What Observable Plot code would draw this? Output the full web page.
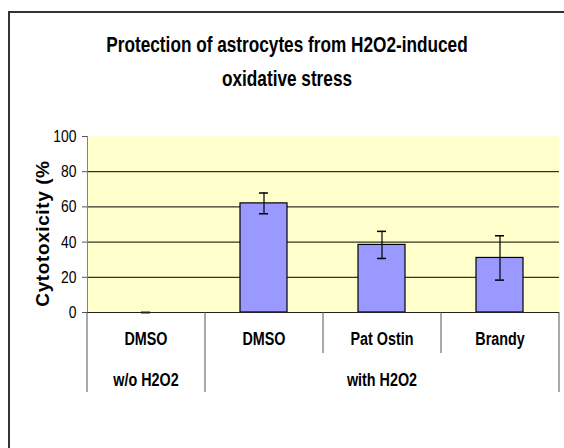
<!DOCTYPE html>
<html>
<head>
<meta charset="utf-8">
<script src="https://cdn.jsdelivr.net/npm/d3@7"></script>
<script src="https://cdn.jsdelivr.net/npm/@observablehq/plot@0.6"></script>
<style>
  body { margin: 0; background: #fff; }
  #wrap { position: relative; width: 564px; height: 448px; overflow: hidden; background: #fff; }
  #border { position: absolute; left: 8px; top: 11px; width: 800px; height: 800px;
            border-top: 2px solid #333; border-left: 2px solid #333; box-sizing: border-box; }
  #title { position: absolute; left: 10px; width: 554px; top: 28px; text-align: center;
           font-weight: bold; color: #000; line-height: 34px; white-space: nowrap; }
  #title div { transform: scaleY(1.24); transform-origin: 50% 50%; }
  #plot { position: absolute; left: 0; top: 100px; }
</style>
</head>
<body>
<div id="wrap">
  <div id="border"></div>
  <div id="title"></div>
  <div id="plot"></div>
</div>
<script>
// ---- data ----
const titleLines = ["Protection of astrocytes from H2O2-induced", "oxidative stress"];
const yLabel = "Cytotoxicity (%";
const treatments = ["DMSO", "DMSO", "Pat Ostin", "Brandy"];
const groups = ["w/o H2O2", "with H2O2", "with H2O2", "with H2O2"];
const cytotoxicity = [0, 62.0, 38.4, 31.0];
const errorSD = [0, 5.9, 7.7, 12.6];
const yTicks = [0, 20, 40, 60, 80, 100];
const gridTicks = [20, 40, 60, 80];

// ---- font detection ----
function hasFont(name) {
  const c = document.createElement("canvas").getContext("2d");
  const t = "DMSO Brandy 0123456789 Protection";
  c.font = "40px monospace";
  const a = c.measureText(t).width;
  c.font = `40px "${name}", monospace`;
  const b = c.measureText(t).width;
  return Math.abs(a - b) > 0.5;
}
const narrow = hasFont("Liberation Sans Narrow");
const FONT = narrow ? '"Liberation Sans Narrow", "Arial Narrow", sans-serif' : '"Liberation Sans", Arial, sans-serif';
const k = narrow ? 1 : 0.82;
const S = narrow ? 1 : 1.22; // vertical stretch of horizontal text

// ---- title ----
const titleEl = document.getElementById("title");
titleEl.style.fontFamily = FONT;
titleEl.style.fontSize = (21 * k) + "px";
titleLines.forEach(t => { const d = document.createElement("div"); d.textContent = t; titleEl.appendChild(d); });
if (narrow) titleEl.querySelectorAll("div").forEach(d => d.style.transform = "none");

// ---- table ----
const rows = treatments.map((t, i) => ({
  id: String(i), treatment: t, group: groups[i],
  value: cytotoxicity[i], lo: cytotoxicity[i] - errorSD[i], hi: cytotoxicity[i] + errorSD[i]
}));
const ids = rows.map(d => d.id);
const spans = [];
rows.forEach((d, i) => {
  const last = spans[spans.length - 1];
  if (last && last.group === d.group) last.end = i; else spans.push({group: d.group, start: i, end: i});
});
const groupLabels = spans.map(s => ({group: s.group, id: ids[Math.floor((s.start + s.end) / 2)]}));
const isFirst = (d, i) => i === 0 || groups[i] !== groups[i - 1];
const firstInGroup = rows.filter(isFirst);
const notFirst = rows.filter((d, i) => !isFirst(d, i));
const lastRow = [rows[rows.length - 1]];

const W = 564, H = 348, ML = 87, MR = 5, MT = 36, MB = 136;
const step = (W - ML - MR) / ids.length;

const chart = Plot.plot({
  width: W, height: H,
  marginLeft: ML, marginRight: MR, marginTop: MT, marginBottom: MB,
  style: {fontFamily: FONT, fontSize: (17 * k) + "px", color: "#000", background: "transparent", overflow: "visible"},
  x: {type: "band", domain: ids, paddingInner: 0.6, paddingOuter: 0.3, axis: null},
  y: {domain: [0, 100]},
  marks: [
    Plot.frame({fill: "#FFFFCC", stroke: null}),
    Plot.gridY(gridTicks, {stroke: "#000", strokeOpacity: 1}),
    Plot.barY(rows, {x: "id", y: "value", fill: "#9999FF", stroke: "#000", strokeWidth: 1.2}),
    Plot.ruleX(rows, {x: "id", y1: "lo", y2: "hi", stroke: "#000", strokeWidth: 1.2}),
    Plot.tickY(rows, {x: "id", y: "hi", stroke: "#000", strokeWidth: 1.5, insetLeft: 19, insetRight: 19}),
    Plot.tickY(rows, {x: "id", y: "lo", stroke: "#000", strokeWidth: 1.5, insetLeft: 19, insetRight: 19}),
    Plot.frame({anchor: "left", stroke: "#808080"}),
    Plot.ruleY([0], {stroke: "#222"}),
    Plot.axisY(yTicks, {tickSize: 5, tickPadding: 6, stroke: "#555", fill: "#000", label: null}),
    // category separators
    Plot.ruleX(firstInGroup, {x: "id", y1: 0, y2: 0, dx: -step / 2, insetBottom: -80, stroke: "#555"}),
    Plot.ruleX(notFirst, {x: "id", y1: 0, y2: 0, dx: -step / 2, insetBottom: -41, stroke: "#555"}),
    Plot.ruleX(lastRow, {x: "id", y1: 0, y2: 0, dx: step / 2, insetBottom: -80, stroke: "#555"}),
    // category labels
    Plot.text(rows, {x: "id", text: "treatment", frameAnchor: "bottom", dy: 27, lineAnchor: "middle",
      fontWeight: "bold", fontSize: 17.5 * k, fill: "#000"}),
    Plot.text(groupLabels, {x: "id", text: "group", frameAnchor: "bottom", dy: 68, lineAnchor: "middle",
      fontWeight: "bold", fontSize: 17.5 * k, fill: "#000"}),
    // y label
    Plot.text([yLabel], {frameAnchor: "left", rotate: -90, dx: -45, dy: 9, text: d => d,
      fontFamily: '"Liberation Sans", Arial, sans-serif', fontWeight: "bold", fontSize: 19,
      fill: "#000", lineAnchor: "middle", textAnchor: "middle"})
  ]
});
chart.querySelectorAll("text").forEach(t => {
  if (t.textContent === yLabel) { t.style.letterSpacing = "0.6px"; return; }
  if (S === 1) return;
  const tr = t.getAttribute("transform") || "";
  const x = +t.getAttribute("x") || 0, y = +t.getAttribute("y") || 0;
  t.setAttribute("transform", `${tr} translate(${x},${y}) scale(1,${S}) translate(${-x},${-y})`);
});
document.getElementById("plot").appendChild(chart);
</script>
</body>
</html>
